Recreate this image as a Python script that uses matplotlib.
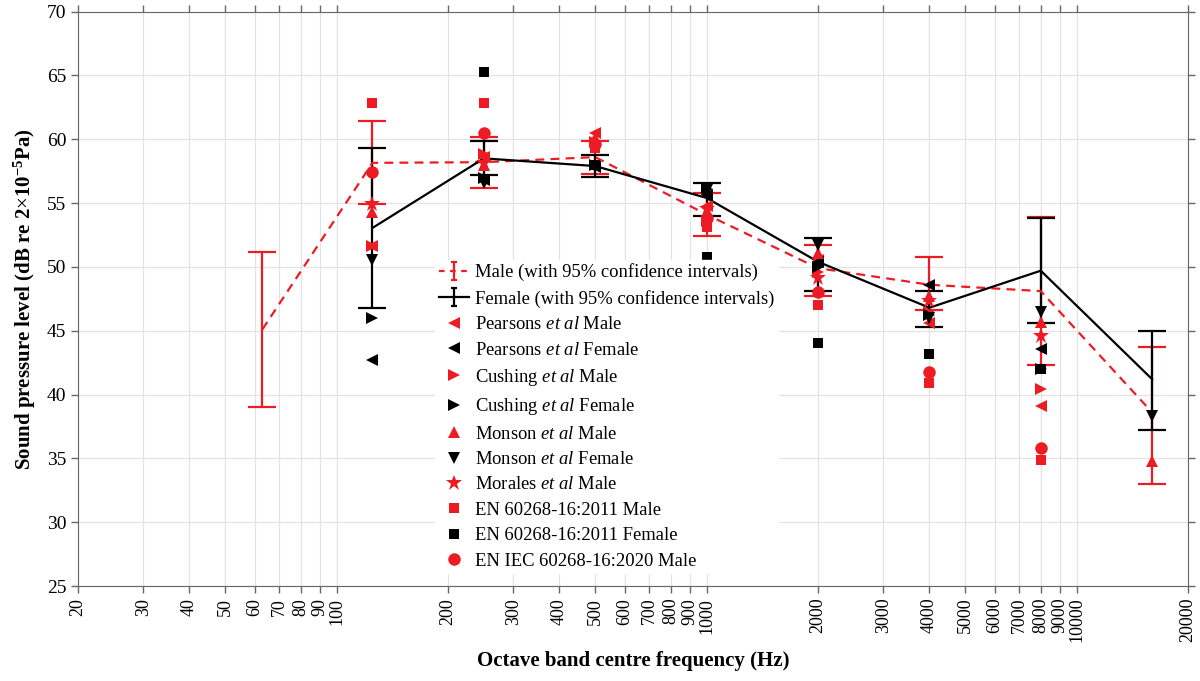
import matplotlib
matplotlib.use("Agg")
import matplotlib.pyplot as plt
from matplotlib.lines import Line2D
from matplotlib.path import Path
from matplotlib.ticker import FixedLocator, NullLocator, FixedFormatter

plt.rcParams["font.family"] = ["Liberation Serif", "DejaVu Serif"]
plt.rcParams["mathtext.fontset"] = "custom"
plt.rcParams["mathtext.rm"] = "Liberation Serif"
plt.rcParams["mathtext.it"] = "Liberation Serif:italic"
plt.rcParams["mathtext.bf"] = "Liberation Serif:bold"

RED = "#ed1c24"
BLACK = "#000000"

# measured means with 95% confidence limits
male_f = [63, 125, 250, 500, 1000, 2000, 4000, 8000, 16000]
male_mean = [45.1, 58.15, 58.2, 58.6, 54.1, 49.9, 48.6, 48.1, 38.6]
male_lo = [39.05, 54.9, 56.2, 57.3, 52.4, 47.7, 46.6, 42.3, 33.0]
male_hi = [51.15, 61.4, 60.2, 59.9, 55.8, 51.7, 50.8, 53.9, 43.7]

female_f = [125, 250, 500, 1000, 2000, 4000, 8000, 16000]
female_mean = [53.05, 58.5, 57.9, 55.4, 50.4, 46.8, 49.7, 41.2]
female_lo = [46.8, 57.2, 57.05, 53.95, 48.1, 45.3, 45.6, 37.2]
female_hi = [59.3, 59.9, 58.8, 56.6, 52.3, 48.1, 53.8, 45.0]

# literature / standard values
f7 = [125, 250, 500, 1000, 2000, 4000, 8000]
f8 = [125, 250, 500, 1000, 2000, 4000, 8000, 16000]
f6 = [250, 500, 1000, 2000, 4000, 8000]
pearsons_m = [51.6, 58.6, 60.5, 54.8, 50.5, 45.6, 39.1]
pearsons_f = [42.7, 56.8, 57.8, 55.6, 50.4, 48.6, 43.6]
cushing_m = [51.6, 58.85, 59.8, 53.6, 49.6, 46.5, 40.4]
cushing_f = [46.0, 57.0, 58.0, 56.1, 50.0, 46.25, 42.0]
monson_m = [54.3, 58.0, 60.1, 54.0, 51.1, 47.7, 45.7, 34.8]
monson_f = [50.56, 56.6, 57.8, 56.0, 51.7, 46.0, 46.5, 38.3]
morales_m = [54.9, 58.15, 59.7, 54.5, 49.15, 47.3, 44.55]
en2011_m = [62.85, 62.85, 59.3, 53.1, 47.0, 40.9, 34.9]
en2011_f = [65.3, 58.0, 50.8, 44.05, 43.2, 42.0]
iec2020_m = [57.45, 60.5, 59.6, 53.8, 48.0, 41.8, 35.8]

xticks = [20, 30, 40, 50, 60, 70, 80, 90, 100, 200, 300, 400, 500, 600, 700,
          800, 900, 1000, 2000, 3000, 4000, 5000, 6000, 7000, 8000, 9000,
          10000, 20000]

fig = plt.figure(figsize=(12, 6.81), dpi=100)
ax = fig.add_axes([0.065, 0.1395, 0.925, 0.8435])


def err(mean, lo, hi):
    return [[m - l for m, l in zip(mean, lo)], [h - m for m, h in zip(mean, hi)]]


ax.errorbar(male_f, male_mean, yerr=err(male_mean, male_lo, male_hi), color=RED,
            ls=(0, (4, 2.8)), lw=1.6, capsize=10, capthick=1.6, elinewidth=1.6,
            zorder=3)
ax.errorbar(female_f, female_mean, yerr=err(female_mean, female_lo, female_hi),
            color=BLACK, ls="-", lw=1.6, capsize=10, capthick=1.6, elinewidth=1.6,
            zorder=3)

# small errorbar glyph for the legend: vertical bar with two caps
ebar = Path([(-0.35, 1), (0.35, 1), (0, 1), (0, -1), (-0.35, -1), (0.35, -1)],
            [Path.MOVETO, Path.LINETO, Path.MOVETO, Path.LINETO, Path.MOVETO, Path.LINETO])
handles = [
    Line2D([], [], color=RED, ls=(0, (2.5, 2.5)), lw=1.6, marker=ebar, ms=13,
           mfc="none", mec=RED, mew=1.6, label="Male (with 95% confidence intervals)"),
    Line2D([], [], color=BLACK, ls="-", lw=1.6, marker=ebar, ms=13,
           mfc="none", mec=BLACK, mew=1.6, label="Female (with 95% confidence intervals)"),
]

ms = 9
series = [
    (f7, pearsons_m, "<", RED, r"Pearsons $\it{et\ al}$ Male"),
    (f7, pearsons_f, "<", BLACK, r"Pearsons $\it{et\ al}$ Female"),
    (f7, cushing_m, ">", RED, r"Cushing $\it{et\ al}$ Male"),
    (f7, cushing_f, ">", BLACK, r"Cushing $\it{et\ al}$ Female"),
    (f8, monson_m, "^", RED, r"Monson $\it{et\ al}$ Male"),
    (f8, monson_f, "v", BLACK, r"Monson $\it{et\ al}$ Female"),
    (f7, morales_m, "*", RED, r"Morales $\it{et\ al}$ Male"),
    (f7, en2011_m, "s", RED, "EN 60268-16:2011 Male"),
    (f6, en2011_f, "s", BLACK, "EN 60268-16:2011 Female"),
    (f7, iec2020_m, "o", RED, "EN IEC 60268-16:2020 Male"),
]
for fx, vals, mk, col, lab in series:
    size = ms + 3 if mk == "*" else (ms - 1.5 if mk == "s" else ms)
    h, = ax.plot(fx, vals, ls="none", marker=mk, color=col, ms=size, mew=0,
                 label=lab, zorder=4)
    handles.append(h)

ax.set_xscale("log")
ax.set_xlim(20, 20000)
ax.set_ylim(25, 70)
ax.xaxis.set_major_locator(FixedLocator(xticks))
ax.xaxis.set_major_formatter(FixedFormatter([str(t) for t in xticks]))
ax.xaxis.set_minor_locator(NullLocator())
ax.set_yticks(range(25, 71, 5))
ax.tick_params(axis="x", labelrotation=90, labelsize=13)
ax.tick_params(axis="y", labelsize=14)
ax.tick_params(direction="out", length=5, width=1, color="#666666",
               top=True, right=True)
ax.grid(True, color="#e3e3e3", lw=0.9)
ax.set_axisbelow(True)
for s in ax.spines.values():
    s.set_color("#666666")

ax.set_xlabel("Octave band centre frequency (Hz)", fontsize=15, fontweight="bold",
              labelpad=6)
ax.set_ylabel(r"Sound pressure level (dB re 2$\times$10$^{\mathbf{-5}}$Pa)",
              fontsize=15, fontweight="bold", labelpad=6)

leg = ax.legend(handles=handles, loc="upper left", bbox_to_anchor=(0.322, 0.568),
                fontsize=13.4, frameon=True, facecolor="white", edgecolor="white",
                framealpha=1, handlelength=1.6, handletextpad=0.3,
                labelspacing=0.45, borderpad=0.2, borderaxespad=0)
leg.set_zorder(5)

fig.savefig("out.png", dpi=100)
